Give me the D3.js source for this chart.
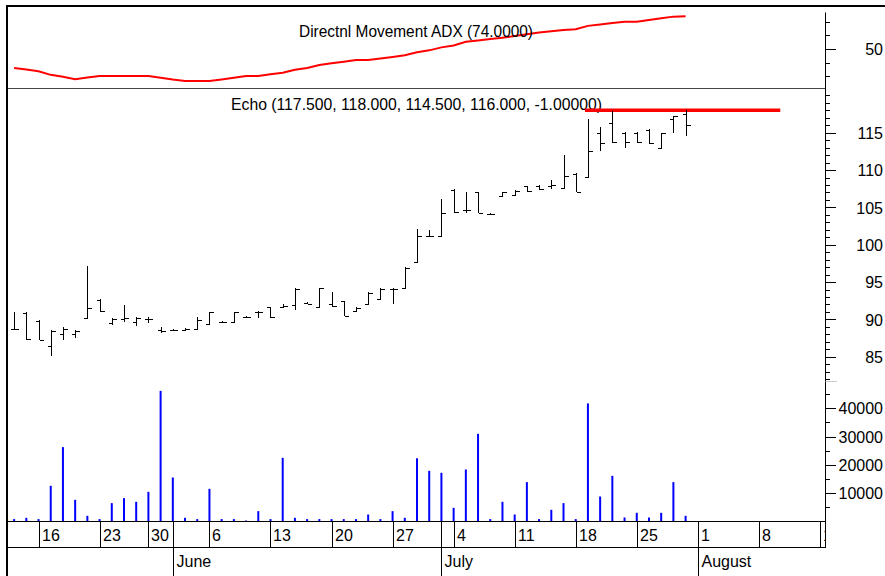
<!DOCTYPE html>
<html><head><meta charset="utf-8">
<script src="https://cdn.jsdelivr.net/npm/d3@7"></script>
<style>
body{margin:0;background:#fff}
svg{display:block}
text{font-family:"Liberation Sans",Arial,sans-serif;fill:#000}
</style>
</head><body>
<svg id="c" width="885" height="576"></svg>
<script>
// ---------------- data ----------------
const dates = ["2011-05-12","2011-05-13","2011-05-16","2011-05-17","2011-05-18","2011-05-19","2011-05-20",
"2011-05-23","2011-05-24","2011-05-25","2011-05-26","2011-05-30","2011-05-31","2011-06-01","2011-06-02","2011-06-03",
"2011-06-06","2011-06-07","2011-06-08","2011-06-09","2011-06-10","2011-06-13","2011-06-14","2011-06-15","2011-06-16","2011-06-17",
"2011-06-20","2011-06-21","2011-06-22","2011-06-23","2011-06-24","2011-06-27","2011-06-28","2011-06-29","2011-06-30","2011-07-01",
"2011-07-04","2011-07-05","2011-07-06","2011-07-07","2011-07-08","2011-07-11","2011-07-12","2011-07-13","2011-07-14","2011-07-15",
"2011-07-18","2011-07-19","2011-07-20","2011-07-21","2011-07-22","2011-07-25","2011-07-26","2011-07-27","2011-07-28","2011-07-29"];
const futureDates = ["2011-08-01","2011-08-02","2011-08-03","2011-08-04","2011-08-05","2011-08-08","2011-08-09","2011-08-10","2011-08-11","2011-08-12","2011-08-15"];

const open  = [88.7,90.9,89.8,86.4,88.0,88.1,90.2,92.6,89.5,90.0,89.6,90.1,88.6,88.6,88.6,88.7,89.4,89.7,89.6,90.3,91.0,91.6,91.7,91.9,92.2,91.6,92.0,92.4,91.1,92.0,92.7,94.1,94.2,97.7,101.1,101.1,107.3,104.7,107.0,104.1,106.5,106.6,107.8,107.9,107.9,107.6,109.5,109.0,115.0,116.3,115.0,114.9,115.3,112.9,116.8,117.5];
const high  = [91.0,91.0,89.9,88.6,89.0,88.6,97.2,92.7,90.2,91.9,90.3,90.3,89.0,88.7,88.8,90.3,91.0,89.8,91.0,90.5,91.1,91.7,92.0,94.2,92.3,94.2,93.6,92.5,91.6,93.6,94.2,94.2,97.0,102.1,102.0,106.1,107.4,107.1,107.1,104.2,107.1,107.3,107.9,108.0,108.6,112.0,109.6,116.9,115.8,117.9,115.1,115.1,115.5,115.0,117.3,118.0];
const low   = [88.6,87.3,87.2,85.1,87.2,87.5,90.2,91.0,89.2,89.7,89.1,89.5,88.2,88.5,88.5,88.6,89.3,89.5,89.6,90.2,90.2,90.2,91.5,91.3,92.0,91.5,91.7,90.5,91.0,92.0,92.6,92.1,94.1,97.6,101.0,101.0,104.3,104.3,104.3,104.0,106.4,106.5,107.1,107.3,107.4,107.5,107.1,108.9,112.5,113.6,112.9,113.6,113.5,112.9,115.0,114.5];
const close = [88.7,87.4,87.3,88.5,88.7,88.4,91.5,91.1,90.1,90.2,90.2,90.1,88.5,88.6,88.7,89.9,91.0,89.6,91.0,90.3,91.0,90.3,91.8,94.1,92.1,94.2,91.8,90.5,91.5,93.5,94.1,94.0,96.9,101.1,101.1,104.2,104.4,104.6,104.3,104.1,107.0,107.2,107.2,107.4,108.0,109.2,107.1,112.5,113.6,113.7,113.7,113.7,113.6,115.0,117.2,116.0];
const volume = [850,1300,850,12600,26260,7660,2010,850,6490,8250,6950,10480,46130,15540,1300,850,11540,850,850,350,3660,850,22480,1300,850,850,850,850,850,2470,850,3660,1300,22360,17900,17200,4830,18360,30950,850,6950,2470,13900,850,4130,6490,850,41700,8830,16130,1410,3070,1410,3070,13900,2010];
const adx = [36.0,35.0,33.7,31.0,29.6,27.8,29.0,30.1,30.1,30.1,30.1,30.1,28.8,27.5,26.5,26.5,26.5,27.6,28.8,30.1,30.1,31.4,32.6,34.8,36.0,38.3,39.5,40.6,41.9,41.9,43.0,44.2,45.4,47.6,49.0,51.2,52.6,55.3,56.3,57.3,58.3,59.5,60.8,62.2,63.0,63.9,64.5,67.0,68.0,69.1,70.1,70.1,71.3,72.6,73.8,74.0];

const weekTickDates  = ["2011-05-16","2011-05-23","2011-05-30","2011-06-06","2011-06-13","2011-06-20","2011-06-27","2011-07-04","2011-07-11","2011-07-18","2011-07-25","2011-08-01","2011-08-08","2011-08-15"];
const weekTickLabels = ["16","23","30","6","13","20","27","4","11","18","25","1","8","15"];
const monthTickDates = ["2011-06-01","2011-07-01","2011-08-01"];
const monthLabels    = ["June","July","August"];
const priceMajorTicks = [85,90,95,100,105,110,115];
const priceMinorTicks = d3.range(82,121);
const volumeMajorTicks = [10000,20000,30000,40000];
const volumeMinorTicks = [5000,15000,25000,35000,45000];
const adxMajorTicks = [50];
const adxMinorTicks = [30,40,60,70];
const adxTitle  = "Directnl Movement ADX (74.0000)";
const echoTitle = "Echo (117.500, 118.000, 114.500, 116.000, -1.00000)";
const levelValue = 118.0, levelFrom = "2011-07-19", levelTo = "2011-08-10";

// ---------------- layout ----------------
const svg = d3.select("#c");
const L = 8, R = 826, AX = 825.5;
const allDates = dates.concat(futureDates);
const idx = d => allDates.indexOf(d);
const x = d3.scaleLinear().domain([-0.5, allDates.length - 0.5]).range([L, R]);
const px = i => Math.round(x(i)) + 0.5;

const yAdx = d3.scaleLinear().domain([50, 70]).range([49, 21.8]);
const yP = d3.scaleLinear().domain([85, 115]).range([356.7, 132.7]);
const yV = d3.scaleLinear().domain([0, 40000]).range([521.5, 408.2]);

// frame
svg.append("line").attr("x1", L-1).attr("x2", L-1).attr("y1", 5).attr("y2", 576).attr("stroke", "#000").attr("stroke-width", 2);
svg.append("line").attr("x1", L-2).attr("x2", 885).attr("y1", 6).attr("y2", 6).attr("stroke", "#000").attr("stroke-width", 2);
svg.append("line").attr("x1", L).attr("x2", R).attr("y1", 88.5).attr("y2", 88.5).attr("stroke", "#444").attr("stroke-width", 1);
svg.append("line").attr("x1", AX).attr("x2", AX).attr("y1", 12.5).attr("y2", 547.5).attr("stroke", "#000").attr("stroke-width", 1);
svg.append("line").attr("x1", AX).attr("x2", 837).attr("y1", 381.5).attr("y2", 381.5).attr("stroke", "#ccc").attr("stroke-width", 1);

// right axes helper
function rightAxis(scale, minor, major, labelFmt){
  const gm = svg.append("g").attr("transform", `translate(${AX},0)`)
    .call(d3.axisRight(scale).tickValues(minor).tickSize(4).tickFormat(""));
  const gM = svg.append("g").attr("transform", `translate(${AX},0)`)
    .call(d3.axisRight(scale).tickValues(major).tickSize(10).tickFormat(labelFmt));
  [gm, gM].forEach(g => {
    g.select(".domain").remove();
    g.selectAll("line").attr("stroke", "#000").attr("shape-rendering", "crispEdges");
  });
  gM.selectAll("text").attr("x", 883 - AX).attr("text-anchor", "end").attr("dy", "0.36em")
    .style("font-size", "16px").attr("font-family", null);
}
rightAxis(yAdx, adxMinorTicks, adxMajorTicks, d3.format("d"));
rightAxis(yP, priceMinorTicks, priceMajorTicks, d3.format("d"));
rightAxis(yV, volumeMinorTicks, volumeMajorTicks, d3.format("d"));

// ADX line
svg.append("path").datum(adx)
  .attr("d", d3.line().x((d,i) => x(i)).y(d => yAdx(d)))
  .attr("fill", "none").attr("stroke", "#ff0000").attr("stroke-width", 2);
svg.append("text").attr("x", 299).attr("y", 37).attr("textLength", 234).attr("lengthAdjust", "spacingAndGlyphs")
  .style("font-size", "17px").text(adxTitle);

// Echo title
svg.append("text").attr("x", 231).attr("y", 110).attr("textLength", 371).attr("lengthAdjust", "spacingAndGlyphs")
  .style("font-size", "17px").text(echoTitle);

// level line
svg.append("line").attr("x1", x(idx(levelFrom)) - 3).attr("x2", x(idx(levelTo)) - 3)
  .attr("y1", yP(levelValue)).attr("y2", yP(levelValue))
  .attr("stroke", "#ff0000").attr("stroke-width", 3.5);

// OHLC bars
const gb = svg.append("g").attr("stroke", "#000").attr("stroke-width", 1).attr("shape-rendering", "crispEdges");
dates.forEach((d, i) => {
  const cx = px(i);
  gb.append("line").attr("x1", cx).attr("x2", cx).attr("y1", yP(high[i])).attr("y2", yP(low[i]));
  gb.append("line").attr("x1", cx - 4).attr("x2", cx).attr("y1", Math.round(yP(open[i]))+0.5).attr("y2", Math.round(yP(open[i]))+0.5);
  gb.append("line").attr("x1", cx).attr("x2", cx + 4).attr("y1", Math.round(yP(close[i]))+0.5).attr("y2", Math.round(yP(close[i]))+0.5);
});

// volume bars
svg.append("g").selectAll("line").data(volume).join("line")
  .attr("x1", (d,i) => x(i)).attr("x2", (d,i) => x(i))
  .attr("y1", yV(0)).attr("y2", d => yV(d))
  .attr("stroke", "#0000ff").attr("stroke-width", 2);

// date axis rows
svg.append("line").attr("x1", L).attr("x2", R).attr("y1", 521.5).attr("y2", 521.5).attr("stroke", "#000");
svg.append("line").attr("x1", L).attr("x2", R).attr("y1", 547.5).attr("y2", 547.5).attr("stroke", "#000");
svg.append("clipPath").attr("id", "clipx").append("rect").attr("x", L).attr("y", 500).attr("width", R - L).attr("height", 76);

const gwOuter = svg.append("g").attr("clip-path", "url(#clipx)");
const gw = gwOuter.append("g").attr("transform", "translate(0,521.5)")
  .call(d3.axisBottom(x).tickValues(weekTickDates.map(idx)).tickSize(26)
        .tickFormat((d, k) => weekTickLabels[k]));
gw.select(".domain").remove();
gw.selectAll(".tick").attr("transform", d => `translate(${px(d)},0)`);
gw.selectAll("line").attr("stroke", "#000").attr("shape-rendering", "crispEdges");
gw.selectAll("text").attr("x", 2.5).attr("y", 19.5).attr("dy", 0).attr("text-anchor", "start")
  .style("font-size", "16px").attr("font-family", null);

const gmo = svg.append("g").attr("transform", "translate(0,521.5)")
  .call(d3.axisBottom(x).tickValues(monthTickDates.map(idx)).tickSize(55)
        .tickFormat((d, k) => monthLabels[k]));
gmo.select(".domain").remove();
gmo.selectAll(".tick").attr("transform", d => `translate(${px(d)},0)`);
gmo.selectAll("line").attr("stroke", "#000").attr("shape-rendering", "crispEdges");
gmo.selectAll("text").attr("x", 3).attr("y", 45).attr("dy", 0).attr("text-anchor", "start")
  .style("font-size", "16px").attr("font-family", null);
</script>
</body></html>
